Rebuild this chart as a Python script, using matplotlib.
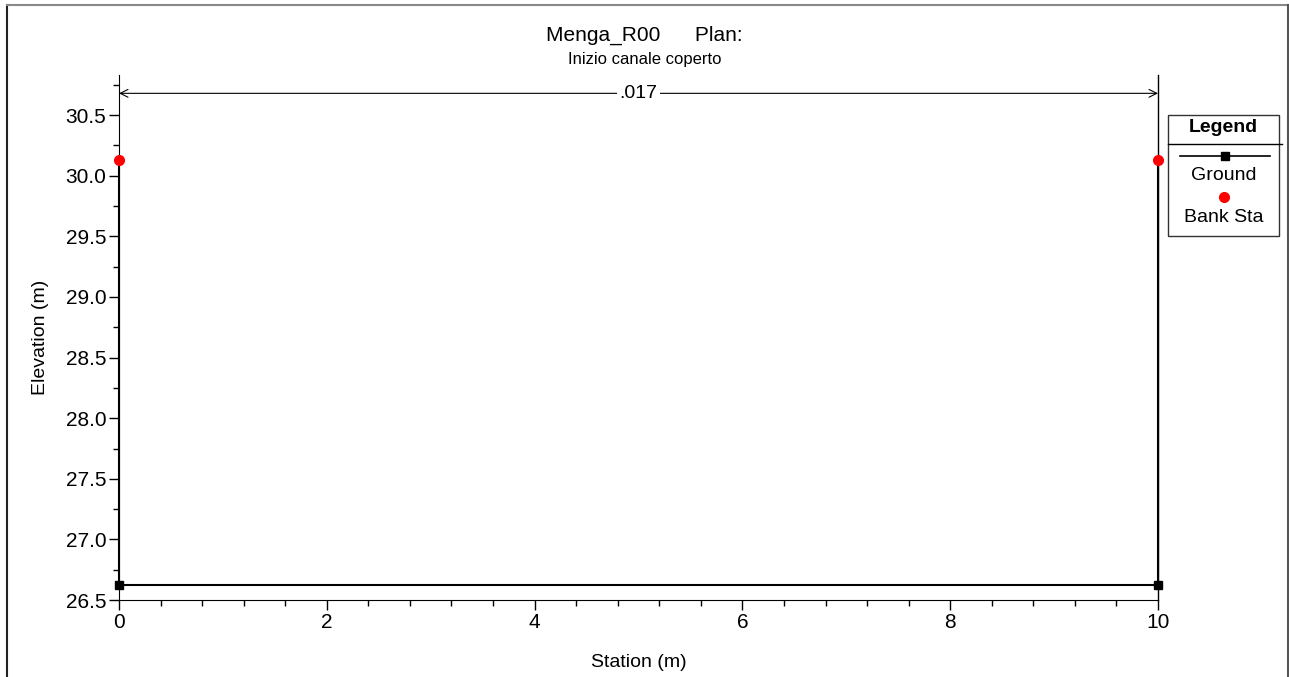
import matplotlib.pyplot as plt
from matplotlib.lines import Line2D
from matplotlib.patches import Rectangle

plt.rcParams['font.family'] = ['Liberation Sans', 'DejaVu Sans']

# cross section data
station = [0, 0, 10, 10]
elevation = [30.13, 26.62, 26.62, 30.13]
bank_sta = [0, 10]
bank_elev = [30.13, 30.13]
n_value = ".017"
n_left, n_right = 0, 10

fig = plt.figure(figsize=(12.89, 6.77), dpi=100)
ax = fig.add_axes([0.0923, 0.1137, 0.8061, 0.7753])

ax.plot(station, elevation, color='black', lw=1.5, marker='s', ms=6,
        markevery=[1, 2], zorder=3, clip_on=False)
ax.plot(bank_sta, bank_elev, 'o', color='red', ms=7, zorder=4, clip_on=False)

ax.set_xlim(0, 10)
ax.set_ylim(26.5, 30.83)
ax.set_xticks([0, 2, 4, 6, 8, 10])
ax.set_xticks([i * 0.4 for i in range(26)], minor=True)
ax.set_yticks([26.5, 27.0, 27.5, 28.0, 28.5, 29.0, 29.5, 30.0, 30.5])
ax.set_yticklabels(['26.5', '27.0', '27.5', '28.0', '28.5', '29.0', '29.5', '30.0', '30.5'])
ax.set_yticks([26.5 + 0.25 * i for i in range(18)], minor=True)
ax.tick_params(labelsize=15, length=7, width=1, direction='out', pad=2)
ax.tick_params(which='minor', length=4, width=1)
for s in ['top', 'right']:
    ax.spines[s].set_visible(False)
ax.spines['left'].set_bounds(26.5, 30.83)
ax.spines['bottom'].set_bounds(0, 10)

# n-value markers
ax.axvline(n_right, color='black', lw=1, ymin=0, ymax=1, clip_on=False)
ax.annotate('', xy=(n_left, 30.68), xytext=(n_right, 30.68),
            arrowprops=dict(arrowstyle='<->', color='black', lw=0.8,
                            shrinkA=0, shrinkB=0, mutation_scale=14))
ax.text((n_left + n_right) / 2, 30.68, n_value, ha='center', va='center',
        fontsize=14, bbox=dict(facecolor='white', edgecolor='none', pad=2))

ax.set_xlabel('Station (m)', fontsize=14, labelpad=16)
ax.set_ylabel('Elevation (m)', fontsize=14, labelpad=12)

fig.text(0.5, 0.948, 'Menga_R00      Plan:', ha='center', va='center', fontsize=15)
fig.text(0.5, 0.912, 'Inizio canale coperto', ha='center', va='center', fontsize=12)

# outer frame
fig.add_artist(Line2D([0.0054, 0.0054], [0, 0.993], color='#222222', lw=1.5))
fig.add_artist(Line2D([0.0054, 0.999], [0.993, 0.993], color='#888888', lw=1.5))
fig.add_artist(Line2D([0.999, 0.999], [0, 0.993], color='#555555', lw=1.5))

# legend box
W, H = 1289, 677
lx0, lx1, ly0, ly1 = 1168, 1279, 115, 236
fig.add_artist(Rectangle((lx0 / W, 1 - ly1 / H), (lx1 - lx0) / W, (ly1 - ly0) / H,
                         fill=False, edgecolor='#333333', lw=1))
fig.add_artist(Line2D([lx0 / W, 1282 / W], [1 - 144 / H] * 2, color='black', lw=1))
fig.text((lx0 + lx1) / 2 / W, 1 - 128 / H, 'Legend', ha='center', va='center',
         fontsize=14, fontweight='bold')
fig.add_artist(Line2D([1180 / W, 1270 / W], [1 - 156 / H] * 2, color='black', lw=1.2))
fig.add_artist(Line2D([1225 / W], [1 - 156 / H], color='black', marker='s', ms=6, ls='none'))
fig.text(1224 / W, 1 - 176 / H, 'Ground', ha='center', va='center', fontsize=14)
fig.add_artist(Line2D([1224 / W], [1 - 197 / H], color='red', marker='o', ms=7, ls='none'))
fig.text(1224 / W, 1 - 217 / H, 'Bank Sta', ha='center', va='center', fontsize=14)

fig.savefig('out.png', dpi=100)
